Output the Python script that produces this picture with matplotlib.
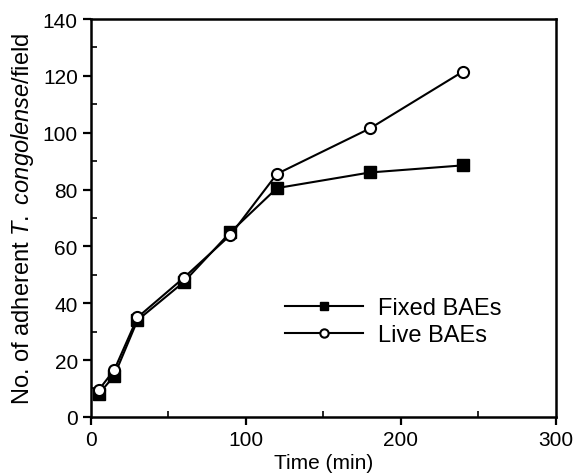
import numpy as np
import matplotlib.pyplot as plt
from matplotlib.ticker import MultipleLocator

plt.rcParams['font.family'] = ['Liberation Sans', 'DejaVu Sans']
plt.rcParams['mathtext.fontset'] = 'custom'
plt.rcParams['mathtext.rm'] = 'Liberation Sans'
plt.rcParams['mathtext.it'] = 'Liberation Sans:italic'

time_min = [5, 15, 30, 60, 90, 120, 180, 240]
fixed_baes = [8, 14.5, 34, 47.5, 65, 80.5, 86, 88.5]
live_baes = [9.5, 16.5, 35, 49, 64, 85.5, 101.5, 121.5]

fig = plt.figure(figsize=(5.76, 4.77), dpi=100)
ax = fig.add_axes([0.158, 0.124, 0.807, 0.834])

ax.plot(time_min, fixed_baes, color='black', lw=1.5, marker='s', ms=8,
        mfc='black', mec='black', label='Fixed BAEs')
ax.plot(time_min, live_baes, color='black', lw=1.5, marker='o', ms=8,
        mfc='white', mec='black', mew=1.5, label='Live BAEs')

ax.set_xlim(0, 300)
ax.set_ylim(0, 140)
ax.xaxis.set_major_locator(MultipleLocator(100))
ax.xaxis.set_minor_locator(MultipleLocator(50))
ax.yaxis.set_major_locator(MultipleLocator(20))
ax.yaxis.set_minor_locator(MultipleLocator(10))
ax.tick_params(which='major', direction='out', length=6, width=1.6, labelsize=15)
ax.tick_params(which='minor', direction='in', length=4, width=1.2)
for sp in ax.spines.values():
    sp.set_linewidth(1.8)

ax.set_xlabel('Time (min)', fontsize=15, labelpad=3)
ax.set_ylabel('No. of adherent $\\mathit{T.}$ $\\mathit{congolense}$/field',
              fontsize=17, labelpad=5)

ax.legend(loc='center left', bbox_to_anchor=(0.417, 0.239), frameon=False,
          borderpad=0, borderaxespad=0,
          fontsize=17, handlelength=3.3, handletextpad=0.65, labelspacing=0.2,
          markerscale=0.75)

plt.savefig('out.png')
